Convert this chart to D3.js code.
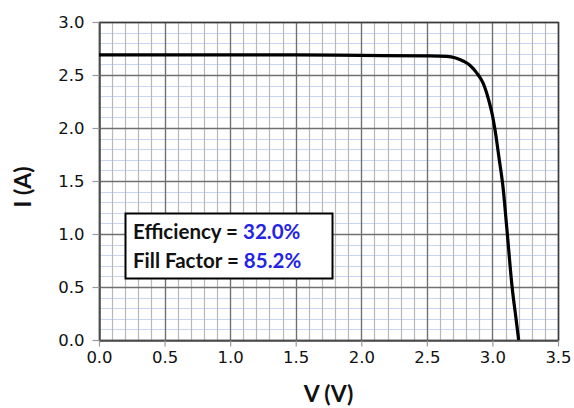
<!DOCTYPE html>
<html>
<head>
<meta charset="utf-8">
<script src="https://cdn.jsdelivr.net/npm/d3@7"></script>
<style>
  html, body { margin: 0; padding: 0; background: #fff; }
  svg { display: block; }
</style>
</head>
<body>
<svg id="chart" width="574" height="408"></svg>
<script>
// I-V curve of the cell: voltage (V) and current (A)
const voltage = [0.0, 0.5, 1.0, 1.5, 2.0, 2.5, 2.65, 2.72, 2.78, 2.83, 2.88, 2.93, 2.97, 3.0, 3.02, 3.05, 3.08, 3.11, 3.15, 3.18, 3.2];
const current = [2.69, 2.69, 2.69, 2.69, 2.685, 2.68, 2.675, 2.66, 2.63, 2.59, 2.52, 2.42, 2.27, 2.12, 1.98, 1.72, 1.45, 1.05, 0.5, 0.2, 0.0];

const xTicks = [0.0, 0.5, 1.0, 1.5, 2.0, 2.5, 3.0, 3.5];
const yTicks = [0.0, 0.5, 1.0, 1.5, 2.0, 2.5, 3.0];
const statLabels = ["Efficiency = ", "Fill Factor = "];
const statValues = ["32.0%", "85.2%"];

const svg = d3.select("#chart");
const plotL = 99, plotR = 558, plotT = 22, plotB = 340;

const x = d3.scaleLinear().domain([0, 3.5]).range([plotL, plotR]);
const y = d3.scaleLinear().domain([0, 3.0]).range([plotB, plotT]);

// minor grid every 0.1
const minorX = d3.range(0, 3.5001, 0.1);
const minorY = d3.range(0, 3.0001, 0.1);
svg.append("g").selectAll("line").data(minorY).join("line")
  .attr("x1", plotL).attr("x2", plotR)
  .attr("y1", d => Math.round(y(d)) + 0.5).attr("y2", d => Math.round(y(d)) + 0.5)
  .attr("stroke", "#c8d5f0").attr("stroke-width", 1);
svg.append("g").selectAll("line").data(minorX).join("line")
  .attr("y1", plotT).attr("y2", plotB)
  .attr("x1", d => Math.round(x(d)) + 0.5).attr("x2", d => Math.round(x(d)) + 0.5)
  .attr("stroke", "#b8b8b8").attr("stroke-width", 1.2);

// major grid every 0.5
svg.append("g").selectAll("line").data(yTicks).join("line")
  .attr("x1", plotL).attr("x2", plotR)
  .attr("y1", d => Math.round(y(d)) + 0.5).attr("y2", d => Math.round(y(d)) + 0.5)
  .attr("stroke", "#707070").attr("stroke-width", 1.3);
svg.append("g").selectAll("line").data(xTicks).join("line")
  .attr("y1", plotT).attr("y2", plotB)
  .attr("x1", d => Math.round(x(d)) + 0.5).attr("x2", d => Math.round(x(d)) + 0.5)
  .attr("stroke", "#707070").attr("stroke-width", 1.3);

// plot frame
svg.append("rect")
  .attr("x", plotL + 0.5).attr("y", plotT + 0.5)
  .attr("width", plotR - plotL).attr("height", plotB - plotT)
  .attr("fill", "none").attr("stroke", "#3a3a3a").attr("stroke-width", 1.5);

// axes
const fmt = d3.format(".1f");
const xAxis = svg.append("g").attr("transform", `translate(0,${plotB + 0.5})`)
  .call(d3.axisBottom(x).tickValues(xTicks).tickFormat(fmt).tickSizeOuter(0).tickSizeInner(6).tickPadding(5));
const yAxis = svg.append("g").attr("transform", `translate(${plotL + 0.5},0)`)
  .call(d3.axisLeft(y).tickValues(yTicks).tickFormat(fmt).tickSizeOuter(0).tickSizeInner(7).tickPadding(8));
[xAxis, yAxis].forEach(a => {
  a.select(".domain").attr("stroke", "#555").attr("stroke-width", 1.5);
  a.selectAll(".tick line").attr("stroke", "#999").attr("stroke-width", 1.2);
  a.selectAll(".tick text")
    .attr("font-family", "DejaVu Sans, sans-serif")
    .attr("font-size", 16.5).attr("fill", "#111");
});

// I-V curve
const pts = voltage.map((v, i) => [v, current[i]]);
svg.append("path")
  .datum(pts)
  .attr("fill", "none").attr("stroke", "#000").attr("stroke-width", 3.2)
  .attr("stroke-linejoin", "round")
  .attr("d", d3.line().x(d => x(d[0])).y(d => y(d[1])).curve(d3.curveMonotoneX));

// axis titles
svg.append("text")
  .attr("x", (plotL + plotR) / 2).attr("y", 402)
  .attr("text-anchor", "middle")
  .attr("font-family", "Lato, sans-serif").attr("font-weight", "bold")
  .attr("font-size", 23).attr("fill", "#111")
  .text("V (V)");
svg.append("text")
  .attr("transform", `translate(31,${(plotT + plotB) / 2 + 6}) rotate(-90)`)
  .attr("text-anchor", "middle")
  .attr("font-family", "Lato, sans-serif").attr("font-weight", "bold")
  .attr("font-size", 23).attr("fill", "#111")
  .text("I (A)");

// annotation box with efficiency and fill factor
const box = svg.append("g");
box.append("rect")
  .attr("x", 125.5).attr("y", 213.5).attr("width", 207).attr("height", 65)
  .attr("fill", "#fff").attr("stroke", "#000").attr("stroke-width", 2);
statLabels.forEach((lab, i) => {
  const t = box.append("text")
    .attr("x", 133).attr("y", 239 + i * 29)
    .attr("font-family", "Lato, sans-serif").attr("font-weight", "bold")
    .attr("font-size", 20.5).attr("fill", "#111");
  t.append("tspan").text(lab);
  t.append("tspan").attr("fill", "#2323e6").text(statValues[i]);
});
</script>
</body>
</html>
